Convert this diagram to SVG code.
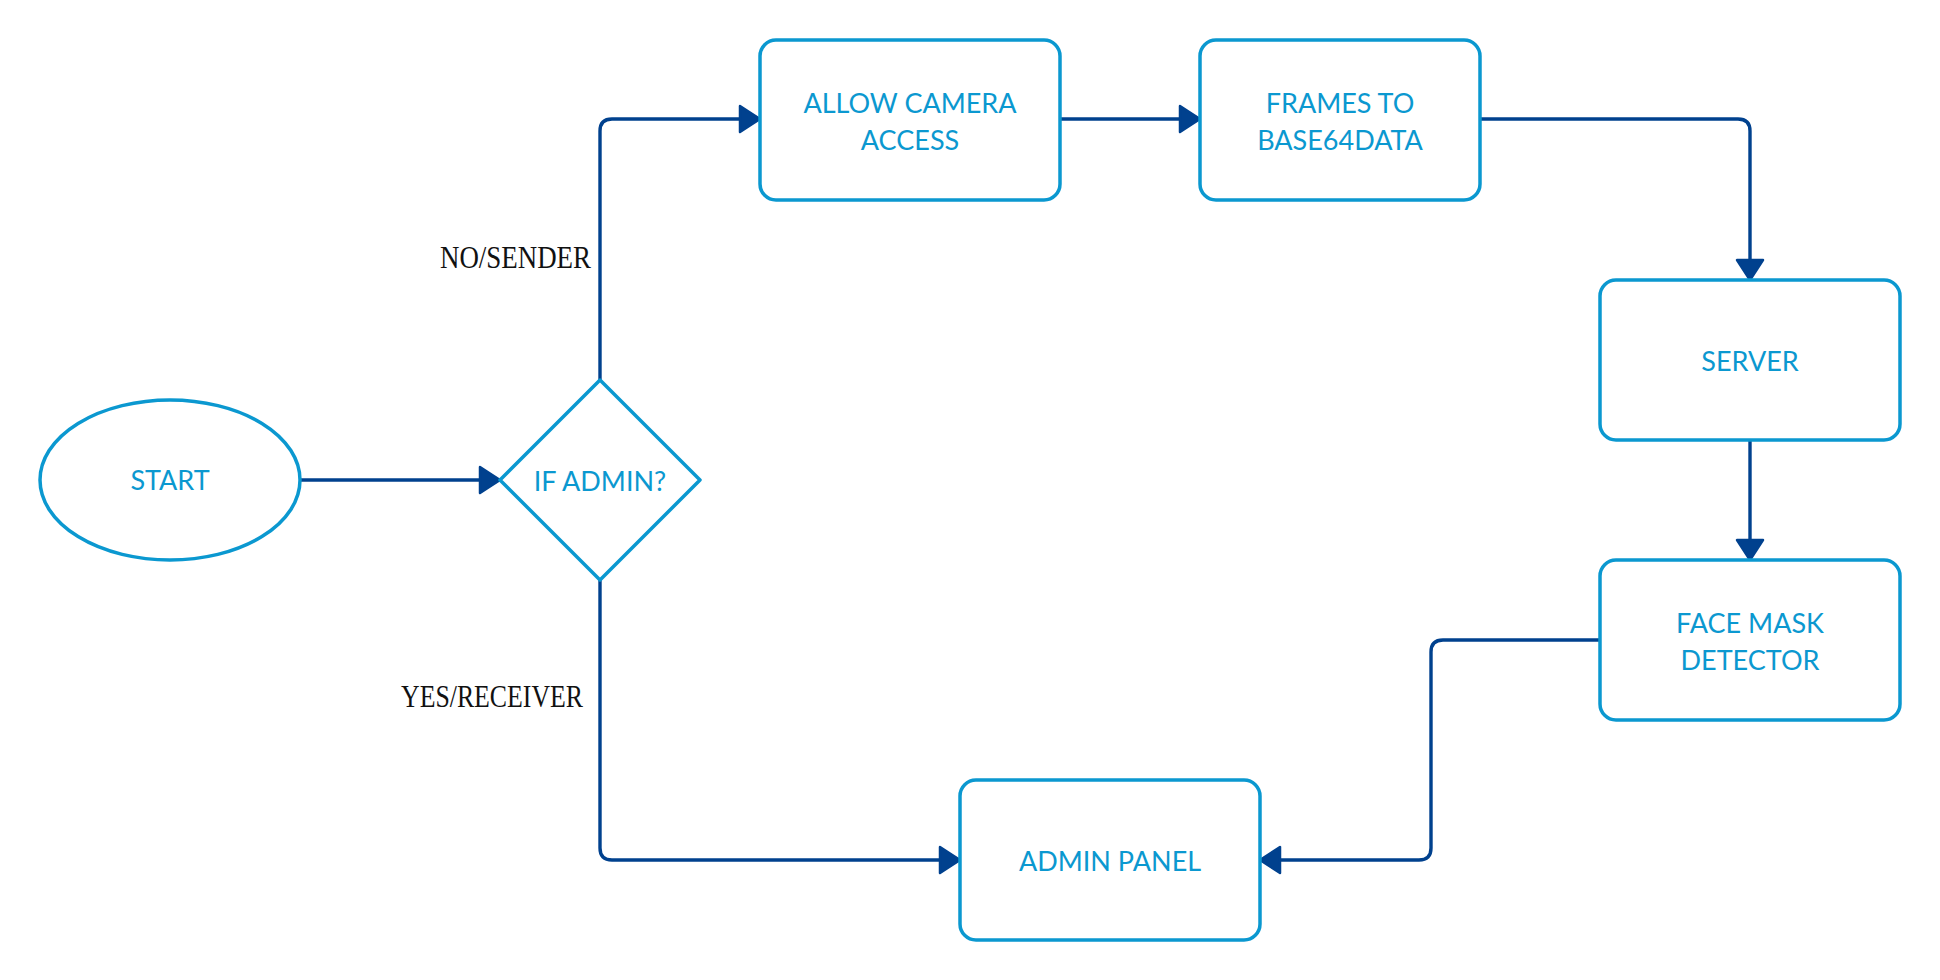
<svg xmlns="http://www.w3.org/2000/svg" width="1940" height="980" viewBox="0 0 1940 980">
<style>
.node{fill:#ffffff;stroke:#0b98d0;stroke-width:3.5}
.lbl{font-family:Lato,"Liberation Sans",sans-serif;font-size:27px;fill:#0b98d0;text-anchor:middle}
.edge{fill:none;stroke:#00418e;stroke-width:3.4}
.etxt{font-family:"Liberation Serif",serif;font-size:31px;fill:#111111}
</style>
<defs>
<marker id="arr" markerUnits="userSpaceOnUse" viewBox="0 0 24 30" refX="22" refY="15" markerWidth="24" markerHeight="30" orient="auto">
<path d="M2,2 L22,15 L2,28 Z" fill="#00418e" stroke="#00418e" stroke-width="2.5" stroke-linejoin="round"/>
</marker>
</defs>
<rect width="1940" height="980" fill="#ffffff"/>
<g id="connectors">
<path class="edge" d="M300,480 H500" marker-end="url(#arr)"/>
<path class="edge" d="M600,380 V131 Q600,119 612,119 H760" marker-end="url(#arr)"/>
<path class="edge" d="M1060,119 H1200" marker-end="url(#arr)"/>
<path class="edge" d="M1480,119 H1738 Q1750,119 1750,131 V280" marker-end="url(#arr)"/>
<path class="edge" d="M1750,440 V560" marker-end="url(#arr)"/>
<path class="edge" d="M1600,640 H1443 Q1431,640 1431,652 V848 Q1431,860 1419,860 H1260" marker-end="url(#arr)"/>
<path class="edge" d="M600,580 V848 Q600,860 612,860 H960" marker-end="url(#arr)"/>
<text class="etxt" x="440" y="268" textLength="151" lengthAdjust="spacingAndGlyphs">NO/SENDER</text>
<text class="etxt" x="401" y="707" textLength="182" lengthAdjust="spacingAndGlyphs">YES/RECEIVER</text>
</g>
<g id="start">
<ellipse class="node" cx="170" cy="480" rx="130" ry="80"/>
<text class="lbl" x="170" y="490">START</text>
</g>
<g id="if-admin">
<path class="node" d="M600,380 L700,480 L600,580 L500,480 Z" stroke-linejoin="round"/>
<text class="lbl" x="600" y="491">IF ADMIN?</text>
</g>
<g id="allow-camera">
<rect class="node" x="760" y="40" width="300" height="160" rx="16"/>
<text class="lbl" x="910" y="113">ALLOW CAMERA</text>
<text class="lbl" x="910" y="150">ACCESS</text>
</g>
<g id="frames">
<rect class="node" x="1200" y="40" width="280" height="160" rx="16"/>
<text class="lbl" x="1340" y="113">FRAMES TO</text>
<text class="lbl" x="1340" y="150">BASE64DATA</text>
</g>
<g id="server">
<rect class="node" x="1600" y="280" width="300" height="160" rx="16"/>
<text class="lbl" x="1750" y="371">SERVER</text>
</g>
<g id="face-mask">
<rect class="node" x="1600" y="560" width="300" height="160" rx="16"/>
<text class="lbl" x="1750" y="633">FACE MASK</text>
<text class="lbl" x="1750" y="670">DETECTOR</text>
</g>
<g id="admin-panel">
<rect class="node" x="960" y="780" width="300" height="160" rx="16"/>
<text class="lbl" x="1110" y="871">ADMIN PANEL</text>
</g>
</svg>
